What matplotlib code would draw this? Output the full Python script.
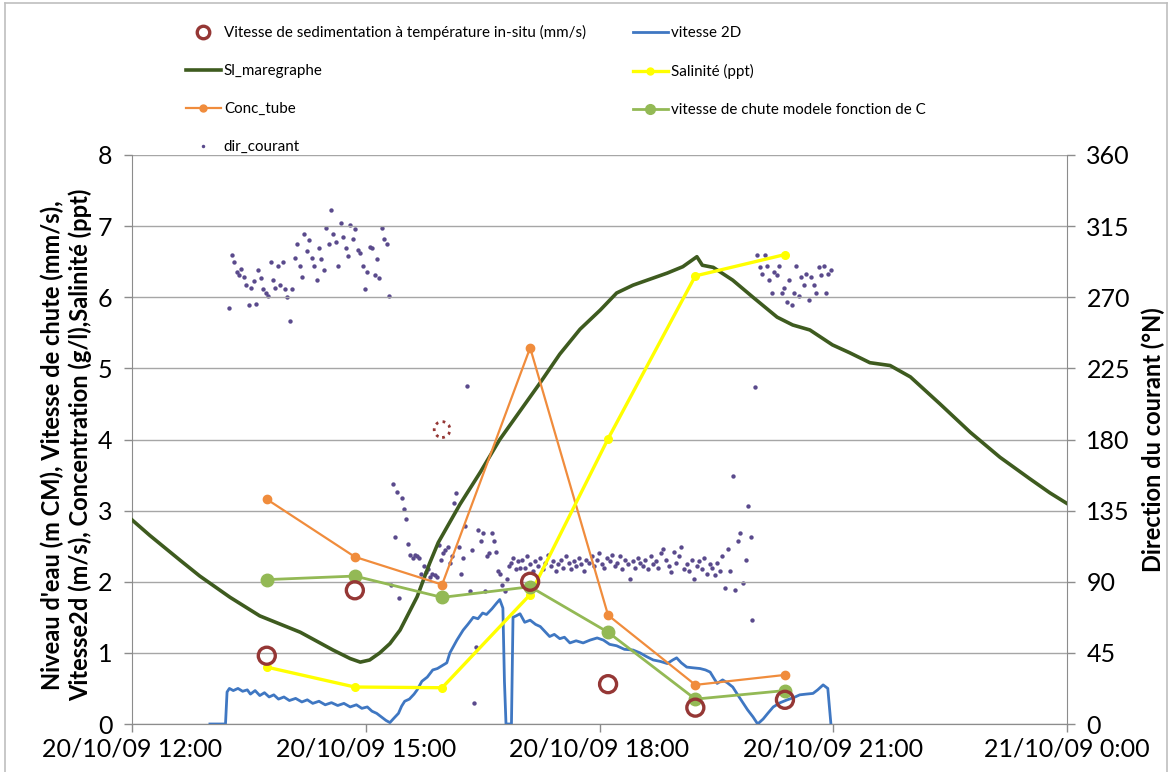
import numpy as np
import pandas as pd
import matplotlib
matplotlib.use('Agg')
import matplotlib.pyplot as plt
import matplotlib.dates as mdates
from matplotlib.ticker import FuncFormatter
from matplotlib.lines import Line2D

plt.rcParams['font.family'] = ['Lato', 'DejaVu Sans']

base = pd.Timestamp('2009-10-20 12:00')

def tt(h):
    # hours after 20/10/09 12:00 -> datetime64
    return (base + pd.to_timedelta(np.asarray(h, dtype=float), unit='h')).to_numpy()

### sample times (hours after 12:00)
h_samples = [1.73, 2.86, 3.98, 5.11, 6.11, 7.23, 8.38]
sed_vitesse = [0.96, 1.88, 4.14, 2.0, 0.56, 0.23, 0.34]   # 3rd point drawn dotted
conc_tube = [3.16, 2.35, 1.96, 5.29, 1.53, 0.55, 0.69]
chute_modele = [2.03, 2.08, 1.78, 1.93, 1.29, 0.35, 0.47]
salinite = [0.80, 0.52, 0.51, 1.82, 4.01, 6.30, 6.60]

### Sl_maregraphe
h_maree = [0.00, 0.23, 0.62, 0.87, 1.26, 1.64, 2.16, 2.58, 2.80, 2.93, 3.05, 3.18,
           3.31, 3.44, 3.66, 3.82, 3.93, 4.21, 4.47, 4.72, 4.98, 5.24, 5.49, 5.75,
           6.01, 6.22, 6.43, 6.87, 7.07, 7.25, 7.32, 7.46, 7.71, 7.97, 8.28, 8.48,
           8.70, 8.99, 9.21, 9.47, 9.73, 9.99, 10.37, 10.76, 11.14, 11.52, 11.78, 12.00]
sl_maree = [2.87, 2.65, 2.30, 2.08, 1.78, 1.52, 1.29, 1.04, 0.92, 0.87, 0.90, 1.00,
            1.13, 1.32, 1.79, 2.26, 2.55, 3.09, 3.54, 4.00, 4.40, 4.80, 5.20, 5.55,
            5.82, 6.06, 6.17, 6.34, 6.43, 6.57, 6.45, 6.42, 6.24, 6.00, 5.72, 5.61,
            5.54, 5.33, 5.22, 5.08, 5.04, 4.88, 4.50, 4.10, 3.75, 3.45, 3.25, 3.10]

### vitesse 2D
h_v2d = [1.00, 1.20, 1.22, 1.25, 1.30, 1.36, 1.42, 1.48, 1.52, 1.58, 1.64, 1.70,
         1.76, 1.82, 1.88, 1.95, 2.02, 2.10, 2.18, 2.25, 2.32, 2.40, 2.48, 2.56,
         2.64, 2.72, 2.80, 2.88, 2.95, 3.02, 3.08, 3.14, 3.20, 3.26, 3.31, 3.36,
         3.42, 3.46, 3.50, 3.56, 3.62, 3.66, 3.72, 3.79, 3.86, 3.92, 3.98, 4.04,
         4.08, 4.12, 4.17, 4.25, 4.31, 4.38, 4.44, 4.50, 4.55, 4.62, 4.68, 4.72,
         4.76, 4.78, 4.80, 4.87, 4.89, 4.93, 4.98, 5.04, 5.11, 5.18, 5.24, 5.30,
         5.36, 5.42, 5.49, 5.55, 5.62, 5.70, 5.79, 5.88, 5.97, 6.05, 6.13, 6.22,
         6.32, 6.43, 6.52, 6.60, 6.69, 6.78, 6.87, 6.94, 6.99, 7.05, 7.12, 7.20,
         7.29, 7.36, 7.42, 7.47, 7.51, 7.58, 7.64, 7.71, 7.78, 7.84, 7.90, 7.97,
         8.03, 8.10, 8.16, 8.23, 8.32, 8.41, 8.49, 8.57, 8.65, 8.74, 8.80, 8.87,
         8.93, 8.97]
v2d = [0.00, 0.00, 0.45, 0.50, 0.47, 0.50, 0.46, 0.48, 0.42, 0.47, 0.40, 0.44,
       0.38, 0.41, 0.35, 0.38, 0.33, 0.36, 0.31, 0.34, 0.29, 0.32, 0.27, 0.30,
       0.26, 0.29, 0.24, 0.27, 0.22, 0.24, 0.18, 0.15, 0.10, 0.05, 0.02, 0.08,
       0.15, 0.25, 0.32, 0.35, 0.42, 0.48, 0.60, 0.66, 0.76, 0.78, 0.82, 0.86,
       1.00, 1.08, 1.18, 1.32, 1.40, 1.50, 1.48, 1.56, 1.54, 1.62, 1.70, 1.75,
       1.63, 0.60, 0.00, 0.00, 1.50, 1.52, 1.55, 1.43, 1.46, 1.40, 1.37, 1.30,
       1.23, 1.26, 1.20, 1.22, 1.14, 1.17, 1.14, 1.18, 1.21, 1.18, 1.12, 1.10,
       1.05, 1.04, 1.00, 0.95, 0.90, 0.88, 0.85, 0.90, 0.93, 0.86, 0.80, 0.79,
       0.78, 0.76, 0.73, 0.64, 0.57, 0.62, 0.58, 0.52, 0.40, 0.30, 0.20, 0.10,
       0.00, 0.07, 0.15, 0.24, 0.30, 0.34, 0.37, 0.41, 0.42, 0.43, 0.48, 0.55,
       0.50, 0.00]

### dir_courant (deg), in 4 stretches of regular sampling
dir_a_span = (1.25, 3.30)
dir_a = [263, 297, 292, 286, 284, 288, 283, 278,
         265, 276, 280, 266, 287, 282, 275,
         273, 271, 292, 281, 276, 290, 278,
         292, 275, 270, 255, 275, 295, 304, 290, 283,
         310, 299, 306, 295, 290, 281, 301, 294, 287,
         314, 304, 325, 310, 305, 290, 317, 308,
         301, 296, 316, 307, 313, 300, 298,
         290, 275, 286, 302, 301, 284, 294, 282,
         314, 307, 304, 271]
dir_b_span = (3.32, 4.98)
dir_b = [88, 152, 118, 147, 80, 143, 136, 130,
         114, 107, 105, 107, 106, 105, 95,
         100, 96, 98, 93, 95, 94, 93,
         113, 104, 108, 110, 112, 102, 106, 140,
         146, 112, 95, 105, 125, 214, 84, 110,
         13, 49, 123, 116, 121, 84, 106, 108,
         121, 116, 109, 97, 95, 88, 84,
         92, 100, 102, 105, 98, 103, 99]
dir_c_span = (5.01, 7.94)
dir_c = [104, 99, 106, 101, 97, 103, 100, 105, 98, 102, 107, 100, 103, 97, 101,
         104, 99, 106, 102, 98, 103, 100, 105, 101, 97, 104,
         102, 106, 100, 104, 108, 101, 99, 105, 103, 107, 100, 102, 106, 98, 104,
         101, 92, 103, 99, 105, 102, 100, 104, 98, 106, 101, 103, 99, 108, 111,
         104, 100, 96, 109, 102, 106, 112, 98,
         101, 97, 104, 92, 100, 103, 98, 105, 95, 101, 99, 94, 102, 97,
         106, 86, 111, 97, 157, 85, 116, 121, 89, 104, 138, 118]
dir_d_span = (7.96, 8.97)
dir_d = [66, 213, 297, 289, 285, 297, 290, 281, 273, 286, 284, 290, 273, 276,
         267, 281, 265, 273, 290, 271, 283, 278, 285, 268, 283, 278, 273, 289,
         284, 290, 273, 285, 287]

h_dir = np.concatenate([np.linspace(s[0], s[1], len(v)) for s, v in
                        [(dir_a_span, dir_a), (dir_b_span, dir_b),
                         (dir_c_span, dir_c), (dir_d_span, dir_d)]])
dir_courant = np.concatenate([dir_a, dir_b, dir_c, dir_d])

c_sed = '#953735'
c_v2d = '#3F77C2'
c_maree = '#3E5B1F'
c_sal = '#FFFF00'
c_conc = '#F08C3C'
c_chute = '#93B955'
c_dir = '#5A4A8C'
c_grid = '#A6A6A6'

fig = plt.figure(figsize=(11.71, 7.72), dpi=100)
ax = fig.add_axes([132/1171, 1-724/772, (1067-132)/1171, (724-155)/772])
ax2 = ax.twinx()
ax.set_zorder(ax2.get_zorder() + 1)
ax.patch.set_visible(False)

ax2.scatter(tt(h_dir), dir_courant, s=10, color=c_dir, linewidths=0, zorder=1)

ax.plot(tt(h_v2d), v2d, color=c_v2d, lw=2.0, zorder=2)
ax.plot(tt(h_maree), sl_maree, color=c_maree, lw=2.6, zorder=3)
ax.plot(tt(h_samples), conc_tube, color=c_conc, lw=1.6, marker='o', ms=6, zorder=4)
ax.plot(tt(h_samples), salinite, color=c_sal, lw=2.4, marker='o', ms=5.5, zorder=5)
ax.plot(tt(h_samples), chute_modele, color=c_chute, lw=2.0, marker='o', ms=9, zorder=6)

solid = [i for i in range(len(sed_vitesse)) if i != 2]
ax.scatter(tt(np.array(h_samples)[solid]), np.array(sed_vitesse)[solid], s=150,
           facecolors='none', edgecolors=c_sed, linewidths=2.4, zorder=7)
ax.scatter(tt([h_samples[2]]), [sed_vitesse[2]], s=130, facecolors='none',
           edgecolors=c_sed, linewidths=2.0, linestyles=(0, (1, 1.6)), zorder=7)

ax.set_xlim(tt(0)[()], tt(12)[()])
ax.set_ylim(0, 8)
ax.set_yticks(range(9))
ax2.set_ylim(0, 360)
ax2.set_yticks(range(0, 361, 45))
ax.grid(axis='y', color=c_grid, lw=1)
ax.set_axisbelow(True)

ax.xaxis.set_major_locator(mdates.HourLocator(byhour=range(0, 24, 3)))
def fmt_date(v, pos):
    d = mdates.num2date(v)
    return f"{d:%d/%m/%y} {d.hour}:{d:%M}"
ax.xaxis.set_major_formatter(FuncFormatter(fmt_date))

for a in (ax, ax2):
    for s in a.spines.values():
        s.set_color('#8C8C8C')
    a.spines['top'].set_visible(False)
    a.tick_params(colors='#8C8C8C', labelcolor='black', labelsize=18, length=6, width=1)
ax.spines['right'].set_visible(False)
ax2.spines['left'].set_visible(False)
ax.tick_params(axis='x', pad=4)
ax.tick_params(axis='y', pad=8)
ax2.tick_params(axis='y', pad=8)

ax.set_ylabel("Niveau d'eau (m CM), Vitesse de chute (mm/s),\n"
              "Vitesse2d (m/s), Concentration (g/l),Salinité (ppt)",
              fontsize=17, fontweight='bold', linespacing=1.2)
ax.yaxis.set_label_coords(-0.043, 0.49)
ax2.set_ylabel("Direction du courant (°N)", fontsize=17, fontweight='bold')
ax2.yaxis.set_label_coords(1.08, 0.5)

handles = [
    Line2D([], [], ls='none', marker='o', ms=9, mfc='none', mec=c_sed, mew=2.4),
    Line2D([], [], color=c_maree, lw=2.6),
    Line2D([], [], color=c_conc, lw=1.6, marker='o', ms=5),
    Line2D([], [], ls='none', marker='o', ms=2.5, color=c_dir, mew=0),
    Line2D([], [], color=c_v2d, lw=2.0),
    Line2D([], [], color=c_sal, lw=2.4, marker='o', ms=5),
    Line2D([], [], color=c_chute, lw=2.0, marker='o', ms=7),
]
labels = ['Vitesse de sedimentation à température in-situ (mm/s)', 'Sl_maregraphe',
          'Conc_tube', 'dir_courant', 'vitesse 2D', 'Salinité (ppt)',
          'vitesse de chute modele fonction de C']
fig.legend(handles, labels, ncol=2, loc='upper left', frameon=False,
           bbox_to_anchor=(186/1171, 1-25/772), borderpad=0, borderaxespad=0,
           fontsize=10.9, labelspacing=1.58, handlelength=2.3, handletextpad=0.2,
           columnspacing=3.1)

# chart area border
fig.add_artist(Line2D([5/1171, 5/1171], [0, 1-3/772], color='#BFBFBF', lw=1.2))
fig.add_artist(Line2D([5/1171, 1-4/1171], [1-3/772, 1-3/772], color='#BFBFBF', lw=1.2))
fig.add_artist(Line2D([1-4/1171, 1-4/1171], [0, 1-3/772], color='#BFBFBF', lw=1.2))

fig.savefig('out.png', dpi=100)
